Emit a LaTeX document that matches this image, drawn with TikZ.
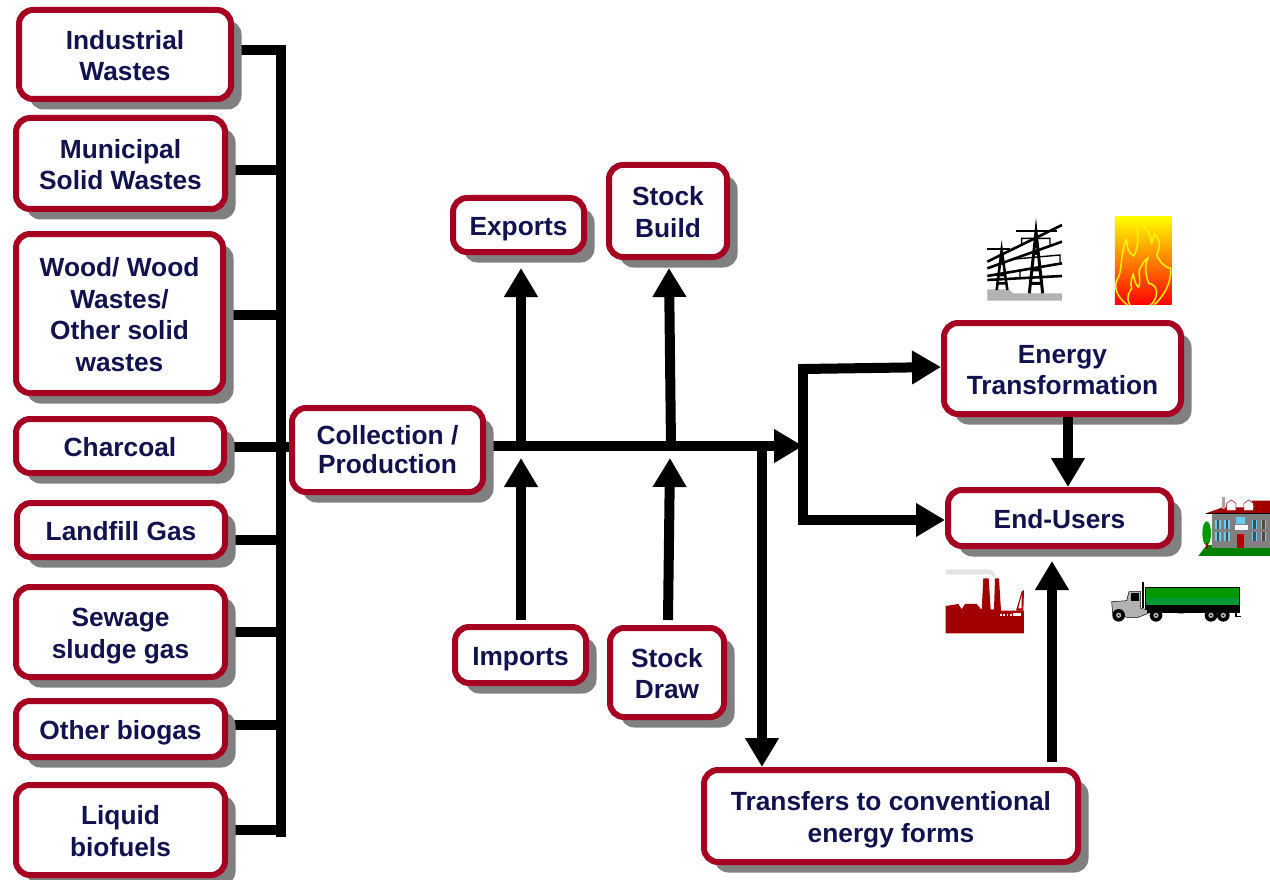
\documentclass[tikz,border=0pt]{standalone}
\usepackage{fontspec}
\setmainfont{Liberation Sans}
\usetikzlibrary{arrows.meta,shadows,backgrounds}
\definecolor{boxred}{HTML}{A50021}
\definecolor{navy}{HTML}{12124F}
\definecolor{shade}{HTML}{808080}
\definecolor{deepred}{HTML}{A00000}
\tikzset{
  flowbox/.style={draw=boxred,line width=6pt,rounded corners=14pt,fill=white,text=navy,
    font=\bfseries\fontsize{26.3}{31.5}\selectfont,align=center,inner sep=0pt,
    drop shadow={shadow xshift=10.5pt,shadow yshift=-10.5pt,opacity=1,fill=shade}},
  tightlines/.style={font=\bfseries\fontsize{26.3}{29}\selectfont},
  link/.style={line width=10pt,black},
  arrowlink/.style={line width=10pt,black,-{Triangle[length=29pt,width=32pt]}},
  zoomA/.style={shift={(930,200)},x=0.3333pt,y=-0.3333pt},
  zoomB/.style={shift={(930,480)},x=0.3333pt,y=-0.3333pt},
}
% [options], name, x1, y1, x2, y2, text
\newcommand{\flowbox}[7][]{%
  \pgfmathsetmacro{\bw}{#5-#3-6}\pgfmathsetmacro{\bh}{#6-#4-6}%
  \pgfmathsetmacro{\bx}{(#3+#5)/2}\pgfmathsetmacro{\by}{(#4+#6)/2}%
  \node[flowbox,#1,minimum width=\bw pt,minimum height=\bh pt] (#2) at (\bx,\by)
    {\rule{0pt}{27pt}#7\rule[-6pt]{0pt}{6pt}};}
\begin{document}
\begin{tikzpicture}[x=1pt,y=-1pt]
\useasboundingbox (0,0) rectangle (1270,880);
% junction points
\coordinate (bustop) at (281,45);
\coordinate (busbot) at (281,837);
\foreach \n/\y in {b1/50,b2/170,b3/315,b4/447,b5/540,b6/632,b7/725,b8/830}{\coordinate (\n) at (281,\y);}
\coordinate (jexp) at (521,446);
\coordinate (texp) at (521,268);
\coordinate (jbuild) at (671,446);
\coordinate (tbuild) at (669,268);
\coordinate (jimp) at (521,458);
\coordinate (simp) at (521,620);
\coordinate (jdraw) at (670,458);
\coordinate (sdraw) at (668,620);
\coordinate (jdown) at (762,446);
\coordinate (split) at (803,446);
\coordinate (splittop) at (803,369);
\coordinate (splitbot) at (803,520);
\coordinate (ttrans) at (941,367);
\coordinate (sconv) at (1052,762);
\coordinate (tend) at (1052,561);
\coordinate (strans) at (1068,417);
\coordinate (tend2) at (1068,487);
\flowbox{ind}{16}{7}{234}{102}{Industrial\\Wastes}
\flowbox{mun}{13}{115}{228}{212}{Municipal\\Solid Wastes}
\flowbox{wood}{13}{231}{226}{396}{Wood/ Wood\\Wastes/\\Other solid\\wastes}
\flowbox{char}{13}{416}{227}{476}{Charcoal}
\flowbox{land}{14}{500}{228}{560}{Landfill Gas}
\flowbox{sew}{13}{584}{228}{680}{Sewage\\sludge gas}
\flowbox{obio}{13}{698}{228}{760}{Other biogas}
\flowbox{liq}{13}{782}{228}{878}{Liquid\\biofuels}
\flowbox[tightlines]{coll}{289}{405}{486}{495}{Collection /\\Production\rule[-10pt]{0pt}{10pt}}
\flowbox{exp}{450}{195}{587}{255}{Exports}
\flowbox{build}{606}{162}{730}{260}{Stock\\Build}
\flowbox{imp}{452}{624}{589}{686}{Imports}
\flowbox{draw}{607}{625}{727}{720}{Stock\\Draw}
\flowbox{trans}{941}{320}{1184}{417}{Energy\\Transformation}
\flowbox{end}{945}{487}{1174}{549}{End-Users}
\flowbox{conv}{701}{767}{1081}{865}{Transfers to conventional\\energy forms}
\begin{pgfonlayer}{background}
\fill[white] (0,0) rectangle (1270,880);
\draw[link] (bustop) -- (busbot);
\draw[link] (ind.east |- b1) -- (b1);
\draw[link] (mun.east |- b2) -- (b2);
\draw[link] (wood.east |- b3) -- (b3);
\draw[link] (char.east |- b4) -- (coll.west |- b4);
\draw[link] (land.east |- b5) -- (b5);
\draw[link] (sew.east |- b6) -- (b6);
\draw[link] (obio.east |- b7) -- (b7);
\draw[link] (liq.east |- b8) -- (b8);
\draw[arrowlink] (coll.east |- split) -- (split);
\end{pgfonlayer}
% main line
\draw[link,line cap=rect] (splittop) -- (splitbot);
\draw[arrowlink] (splittop) -- (ttrans);
\draw[arrowlink] (splitbot) -- (end.west |- splitbot);
\draw[arrowlink] (jexp) -- (texp);
\draw[arrowlink] (jbuild) -- (tbuild);
\draw[arrowlink] (simp) -- (jimp);
\draw[arrowlink] (sdraw) -- (jdraw);
\draw[arrowlink] (jdown) -- (jdown |- conv.north);
\draw[arrowlink] (sconv) -- (tend);
\draw[arrowlink] (strans) -- (tend2);
% pylons
\begin{scope}[zoomA]
  \fill[gray!60] (172,268) -- (235,268) -- (250,280) -- (396,280) -- (396,302) -- (172,302) -- cycle;
  \draw[line width=2.6pt] (200,270) -- (215,150) -- (232,270) (204,250) -- (228,250) (207,225) -- (225,225) (210,190) -- (222,190);
  \draw[line width=3pt] (298,280) -- (318,95) -- (338,280) (302,250) -- (334,250) (306,210) -- (330,210) (310,160) -- (326,160) (312,130)--(324,130);
  \draw[line width=2pt] (172,148) -- (240,148) (258,92) -- (380,92);
  \draw[line width=2.6pt] (172,185) -- (396,75);
  \draw[line width=2.6pt] (172,205) -- (396,125);
  \draw[line width=2.6pt] (172,228) -- (396,190);
  \draw[line width=2.6pt] (172,240) -- (396,228);
  \draw[line width=1.4pt] (275,135) -- (275,115) -- (360,115) -- (360,135) (245,178) -- (390,165) -- (390,188) (270,208) -- (270,235);
  % flame
  \shade[top color=yellow,bottom color=red] (555,50) rectangle (725,315);
  \draw[yellow,line width=1.5pt,line join=round] (592,315) .. controls (560,290) and (550,260) .. (562,238) .. controls (578,215) and (570,160) .. (590,115) .. controls (590,140) and (595,160) .. (612,168) .. controls (630,130) and (625,90) .. (612,60) .. controls (640,75) and (660,90) .. (665,130) .. controls (670,115) and (672,105) .. (672,100) .. controls (695,125) and (690,140) .. (680,165) .. controls (690,185) and (700,200) .. (722,205) .. controls (725,250) and (700,290) .. (672,315);
  \draw[yellow,line width=1.5pt,line join=round] (600,315) .. controls (585,290) and (600,275) .. (605,265) .. controls (600,250) and (605,235) .. (610,220) .. controls (612,240) and (618,255) .. (625,262) .. controls (635,250) and (625,225) .. (628,210) .. controls (635,195) and (645,180) .. (655,172) .. controls (640,200) and (650,230) .. (656,250) .. controls (670,250) and (685,265) .. (678,290) .. controls (675,300) and (670,310) .. (660,315);
\end{scope}
\begin{scope}[zoomB]
  % building
  \fill[green!50!black] (805,228) -- (830,195) -- (1020,195) -- (1020,228) -- cycle;
  \fill[green!60!black] (830,160) ellipse (13 and 36);
  \fill[deepred] (827,190) rectangle (833,208);
  \fill[gray] (845,98) rectangle (1020,205);
  \fill[deepred] (965,62) -- (1020,62) -- (1020,85) -- (975,85) -- cycle;
  \fill[deepred] (828,100) -- (878,82) -- (1020,82) -- (1020,100) -- cycle;
  \fill[gray!70] (876,50) rectangle (884,88);
  \fill[white,draw=deepred,line width=0.5pt] (890,92) -- (890,70) -- (904,60) -- (918,70) -- (918,92) -- cycle;
  \fill[white,draw=deepred,line width=0.5pt] (942,92) -- (942,70) -- (956,60) -- (970,70) -- (970,92) -- cycle;
  \draw[black,line width=0.8pt] (828,100) -- (1020,100);
  \foreach \wx in {858,885,968,995}{
    \fill[cyan!60] (\wx-2,120) rectangle (\wx+14,146);
    \fill[cyan!60] (\wx-2,157) rectangle (\wx+14,184);
    \fill[black!70] (\wx+2,120) rectangle (\wx+10,146);
    \fill[black!70] (\wx+2,157) rectangle (\wx+10,184);
  }
  \fill[white] (914,134) rectangle (955,150);
  \fill[cyan!60] (917,112) rectangle (945,132);
  \fill[deepred!80!red] (921,163) rectangle (943,203);
  % factory
  \fill[gray!22] (47,268) -- (165,268) .. controls (185,268) and (195,275) .. (197,292) -- (190,292) .. controls (188,282) and (180,283) .. (168,283) -- (47,283) -- cycle;
  \fill[deepred] (47,460) -- (47,378) -- (85,372) -- (95,388) -- (105,372) -- (140,372) -- (155,390) -- (160,295) -- (176,295) -- (182,388) -- (192,388) -- (195,295) -- (207,295) -- (213,392) -- (282,392) -- (282,460) -- cycle;
  \fill[deepred] (258,392) -- (275,335) -- (282,330) -- (280,392) -- cycle;
  \fill[white] (265,385) -- (275,345) -- (275,385) -- cycle;
  \fill[white] (250,400) rectangle (274,409);
  \foreach \sx in {210,220,230,240}{\fill[white] (\sx,402) rectangle (\sx+5,407);}
  % truck
  \fill[black] (645,320) rectangle (930,398);
  \fill[green!60!black] (648,325) rectangle (926,355);
  \fill[green!50!black!80!cyan] (648,355) rectangle (926,376);
  \fill[black] (635,305) rectangle (642,385);
  \fill[gray!60,draw=black,line width=0.5pt] (545,365) -- (590,362) -- (597,335) -- (632,335) -- (632,385) -- (655,390) -- (655,400) -- (625,412) -- (590,412) -- (548,400) -- cycle;
  \fill[black] (602,340) rectangle (628,362);
  \fill[black] (650,388) rectangle (700,400);
  \fill[black] (720,390) .. controls (730,402) and (760,402) .. (770,398) -- (820,392) -- (720,388) -- cycle;
  \draw[black,line width=1.2pt] (918,392) -- (918,410) -- (932,410);
  \foreach \wx in {566,678,843,880}{
    \fill[black] (\wx,406) circle (19);
    \fill[gray!60] (\wx,406) circle (8);
    \fill[black] (\wx,406) circle (3);
  }
\end{scope}
\end{tikzpicture}
\end{document}
